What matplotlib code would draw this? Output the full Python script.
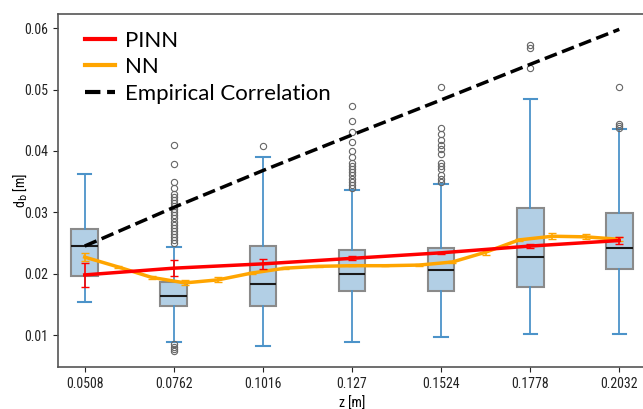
import matplotlib
matplotlib.use("Agg")
import matplotlib.pyplot as plt
from matplotlib.lines import Line2D

# z positions (tick labels) and box statistics
z_labels = ['0.0508', '0.0762', '0.1016', '0.127', '0.1524', '0.1778', '0.2032']
q1 = [0.0196, 0.0147, 0.0147, 0.0172, 0.0172, 0.0178, 0.0207]
med = [0.0245, 0.0164, 0.0183, 0.0199, 0.0206, 0.0227, 0.0242]
q3 = [0.0273, 0.0186, 0.0245, 0.0238, 0.0242, 0.0307, 0.0299]
whislo = [0.0154, 0.0089, 0.0082, 0.0089, 0.0097, 0.0102, 0.0102]
whishi = [0.0362, 0.0243, 0.0390, 0.0336, 0.0346, 0.0484, 0.0436]
fliers = [
    [],
    [0.0250, 0.0255, 0.0260, 0.0265, 0.0270, 0.0275, 0.0280, 0.0285, 0.0290,
     0.0295, 0.0300, 0.0305, 0.0310, 0.0315, 0.0320, 0.0325, 0.0330, 0.0340,
     0.0350, 0.0378, 0.0410, 0.0085, 0.0080, 0.0077, 0.0074],
    [0.0408],
    [0.0340, 0.0345, 0.0350, 0.0355, 0.0360, 0.0365, 0.0370, 0.0375, 0.0380,
     0.0390, 0.0400, 0.0415, 0.0430, 0.0448, 0.0473],
    [0.0350, 0.0355, 0.0360, 0.0370, 0.0375, 0.0380, 0.0395, 0.0403, 0.0410,
     0.0418, 0.0428, 0.0437, 0.0504],
    [0.0535, 0.0568, 0.0573],
    [0.0438, 0.0441, 0.0444, 0.0504],
]

# PINN prediction at each z
pinn = [0.0198, 0.0209, 0.0216, 0.0225, 0.0234, 0.0245, 0.0254]
pinn_err = [0.0019, 0.0013, 0.0008, 0.0003, 0.0002, 0.0003, 0.0005]

# NN prediction on a finer grid (in box-position units)
nn_x = [1.0, 1.375, 1.75, 2.125, 2.5, 2.875, 3.25, 3.625, 4.0, 4.375, 4.75,
        5.125, 5.5, 5.875, 6.25, 6.625, 7.0]
nn = [0.0227, 0.0211, 0.0194, 0.0185, 0.0190, 0.0201, 0.0209, 0.0212, 0.0213,
      0.0213, 0.0214, 0.0219, 0.0235, 0.0255, 0.0261, 0.0260, 0.0256]
nn_err = [0.0006, 0.0002, 0.0002, 0.0004, 0.0004, 0.0002, 0.0002, 0.0001, 0.0001,
          0.0001, 0.0001, 0.0002, 0.0005, 0.0002, 0.0005, 0.0004, 0.0003]

# empirical correlation
emp = [0.0245, 0.0308, 0.0368, 0.0426, 0.0483, 0.0541, 0.0598]

plt.rcParams['font.family'] = ['Roboto Condensed', 'Liberation Sans Narrow', 'Roboto', 'DejaVu Sans']

fig = plt.figure(figsize=(6.43, 4.09), dpi=100)
ax = fig.add_axes([58 / 643, 42 / 409, 588 / 643, 353 / 409])

pos = list(range(1, len(z_labels) + 1))
stats = []
for i in range(len(z_labels)):
    stats.append({'q1': q1[i], 'med': med[i], 'q3': q3[i],
                  'whislo': whislo[i], 'whishi': whishi[i], 'fliers': fliers[i]})

ax.bxp(stats, positions=pos, widths=0.3, patch_artist=True,
       boxprops=dict(facecolor='#b2cfe5', edgecolor='#8a8a8a', linewidth=1.5),
       medianprops=dict(color='#1a1a1a', linewidth=1.5),
       whiskerprops=dict(color='#4c93c9', linewidth=1.3),
       capprops=dict(color='#4c93c9', linewidth=1.5),
       flierprops=dict(marker='o', markerfacecolor='none', markeredgecolor='#666666',
                       markersize=4.5, markeredgewidth=0.8))

ax.errorbar(pos, pinn, yerr=pinn_err, color='red', linewidth=2.5, capsize=3,
            elinewidth=1.2, zorder=5)
ax.errorbar(nn_x, nn, yerr=nn_err, color='orange', linewidth=2.5, capsize=3,
            elinewidth=1.2, zorder=4)
ax.plot(pos, emp, 'k--', linewidth=2.5, zorder=6)

ax.set_xlim(0.7, 7.3)
ax.set_ylim(0.0048, 0.0623)
ax.set_xticks(pos)
ax.set_xticklabels(z_labels)
ax.set_yticks([0.01, 0.02, 0.03, 0.04, 0.05, 0.06])
ax.tick_params(labelsize=10, colors='#222222')
ax.set_xlabel('z [m]', fontsize=10)
ax.set_ylabel('d$_\\mathrm{b}$ [m]', fontsize=10)
ax.yaxis.set_label_coords(-0.05, 0.5)
ax.spines['right'].set_visible(False)
for s in ['left', 'bottom', 'top']:
    ax.spines[s].set_color('#555555')
    ax.spines[s].set_linewidth(1.2)

handles = [Line2D([], [], color='red', linewidth=3),
           Line2D([], [], color='orange', linewidth=3),
           Line2D([], [], color='black', linestyle='--', linewidth=3)]
ax.legend(handles, ['PINN', 'NN', 'Empirical Correlation'], loc='upper left',
          bbox_to_anchor=(0.046, 0.953), frameon=False, handlelength=1.35,
          handletextpad=0.45, borderaxespad=0, borderpad=0, labelspacing=0.3,
          prop={'family': ['Lato', 'DejaVu Sans'], 'size': 16})

fig.savefig('out.png', dpi=100)
